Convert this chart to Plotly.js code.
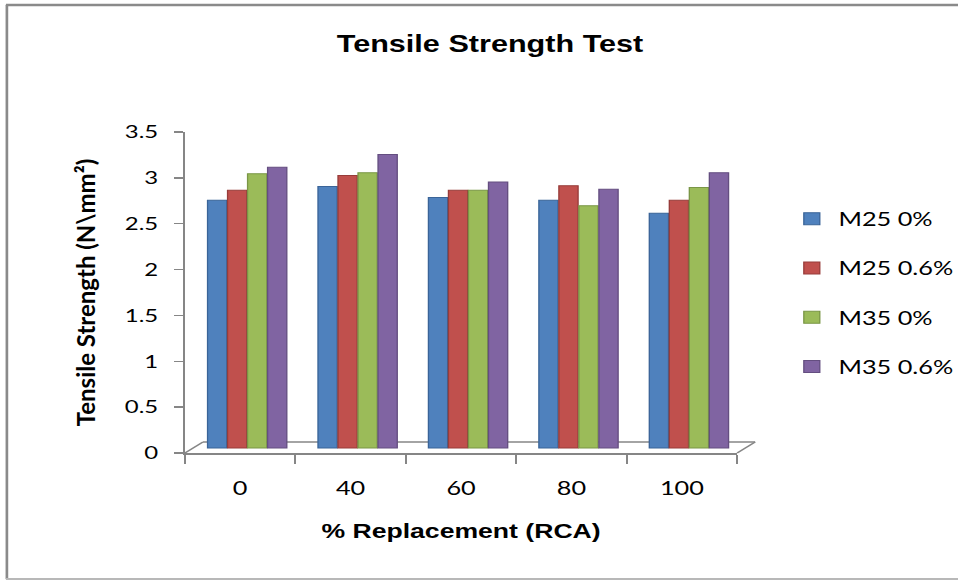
<!DOCTYPE html>
<html>
<head>
<meta charset="utf-8">
<script src="https://cdn.plot.ly/plotly-3.0.1.min.js"></script>
<style>
html,body{margin:0;padding:0;background:#fff;overflow:hidden;}
#wrap{width:958px;height:581px;overflow:hidden;position:relative;}
#chart{width:720px;height:581px;transform:scaleX(1.3306);transform-origin:0 0;}
/* keep the rotated y title from being widened by the horizontal stretch */
#chart .g-ytitle{transform:scaleX(0.7515);transform-box:fill-box;transform-origin:center;}
</style>
</head>
<body>
<div id="wrap"><div id="chart"></div></div>
<script>
// ---- data ----
const categories = ["0", "40", "60", "80", "100"];
const seriesNames = ["M25 0%", "M25 0.6%", "M35 0%", "M35 0.6%"];
const m25_0 = [2.70, 2.85, 2.73, 2.70, 2.56];
const m25_06 = [2.81, 2.97, 2.81, 2.86, 2.70];
const m35_0 = [2.99, 3.00, 2.81, 2.64, 2.84];
const m35_06 = [3.06, 3.20, 2.90, 2.82, 3.00];
const yTicks = [0, 0.5, 1, 1.5, 2, 2.5, 3, 3.5];
const chartTitle = "Tensile Strength Test";
const xTitle = "% Replacement (RCA)";
const yTitle = "Tensile Strength (N\\mm²)";

const seriesValues = [m25_0, m25_06, m35_0, m35_06];
const colors = ["#4F81BD", "#C0504D", "#9BBB59", "#8064A2"];
const edges = ["#3A6498", "#973C3A", "#7A9646", "#644E80"];

// geometry (unstretched coordinates; the whole chart is stretched horizontally by S)
const S = 958 / 720;
const W = 720, H = 581;
const L = 185 / S, R = 737 / S, T = 132, B = 453;
const pw = R - L, ph = B - T;
const px = v => (v - L) / pw;       // v in unstretched px
const pxr = v => px(v / S);          // v in final (stretched) px
const py = v => (B - v) / ph;
const dx = 7 / S, dy = 5;            // depth offset of the 3D bars
const catW = pw / categories.length;
const yMax = 3.5;

const traces = seriesNames.map((name, i) => ({
  type: "bar",
  name: name,
  x: categories,
  y: seriesValues[i],
  xaxis: "x2",
  yaxis: "y2",
  marker: {color: colors[i], line: {color: edges[i], width: 1}},
  legendgroup: "g" + i,
  hoverinfo: "x+y+name"
}));
traces.push({
  type: "scatter", x: categories, y: categories.map(() => null),
  xaxis: "x", yaxis: "y", showlegend: false, hoverinfo: "skip"
});

const ffont = "Lato, 'Open Sans', sans-serif";
const afont = "'Liberation Sans', Arial, sans-serif";
const grey = "#868686";

const sx = 18 / S, sy = 11;
const floorShapes = [
  {x0: px(L), y0: py(B), x1: px(L + sx), y1: py(B - sy)},
  {x0: px(L + sx), y0: py(B - sy), x1: px(R + sx), y1: py(B - sy)},
  {x0: px(R), y0: py(B), x1: px(R + sx), y1: py(B - sy)}
].map(s => Object.assign({type: "line", xref: "paper", yref: "paper",
  line: {color: grey, width: 1.5}, layer: "below"}, s));

const border = [
  {type: "line", xref: "paper", yref: "paper", x0: pxr(7), x1: pxr(7), y0: py(5), y1: py(579), line: {color: "#8a8a8a", width: 2}},
  {type: "line", xref: "paper", yref: "paper", x0: pxr(6), x1: pxr(962), y0: py(5), y1: py(5), line: {color: "#8a8a8a", width: 2.5}},
  {type: "line", xref: "paper", yref: "paper", x0: pxr(6), x1: pxr(962), y0: py(579), y1: py(579), line: {color: "#b8b8b8", width: 2}}
];

const layout = {
  width: W, height: H,
  margin: {l: L, r: W - R, t: T, b: H - B, pad: 0, autoexpand: false},
  paper_bgcolor: "#fff", plot_bgcolor: "rgba(0,0,0,0)",
  font: {family: ffont, size: 18, color: "#000"},
  title: {text: chartTitle, font: {family: afont, size: 23, color: "#000", weight: "bold"},
          xref: "container", x: 490 / 958, xanchor: "center", y: 1 - 44 / H, yanchor: "middle"},
  barmode: "group",
  bargap: 0.275,
  bargroupgap: 0.04,
  showlegend: true,
  legend: {x: px(590), xanchor: "left", y: py(200), yanchor: "top",
           font: {family: ffont, size: 19, color: "#000"},
           tracegroupgap: 21.5, traceorder: "grouped", itemwidth: 30,
           bgcolor: "rgba(0,0,0,0)"},
  xaxis: {
    type: "category", range: [-0.5, categories.length - 0.5],
    showline: true, linecolor: grey, linewidth: 1.5,
    ticks: "outside", tickson: "boundaries", ticklen: 9, tickcolor: grey, tickwidth: 1.5,
    ticklabelstandoff: 18,
    showgrid: false, zeroline: false, fixedrange: true,
    tickfont: {family: ffont, size: 19, color: "#000"},
    title: {text: xTitle, font: {family: afont, size: 20, color: "#000", weight: "bold"}, standoff: 25}
  },
  yaxis: {
    range: [0, yMax], tickvals: yTicks, ticktext: yTicks.map(String),
    showline: true, linecolor: grey, linewidth: 1.5,
    ticks: "outside", ticklen: 7, tickcolor: grey, tickwidth: 1.5,
    ticklabelstandoff: 8,
    showgrid: false, zeroline: false, fixedrange: true,
    tickfont: {family: ffont, size: 18, color: "#000"},
    title: {text: yTitle, font: {family: ffont, size: 24, color: "#000", weight: "bold"}, standoff: 12}
  },
  xaxis2: {
    type: "category", overlaying: "x", anchor: "y2",
    range: [-0.5 - dx / catW, categories.length - 0.5 - dx / catW],
    visible: false, fixedrange: true
  },
  yaxis2: {
    overlaying: "y", anchor: "x2",
    range: [-dy / ph * yMax, yMax - dy / ph * yMax],
    visible: false, fixedrange: true
  },
  shapes: floorShapes.concat(border)
};

Plotly.newPlot("chart", traces, layout, {displayModeBar: false, staticPlot: true});
</script>
</body>
</html>
